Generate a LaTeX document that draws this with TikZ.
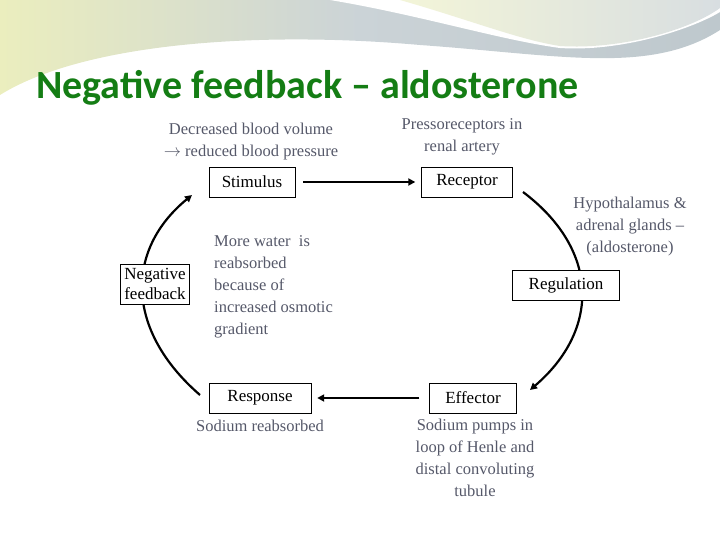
\documentclass[tikz,border=0pt]{standalone}
\usepackage{fontspec}
\setmainfont{Liberation Serif}
\newfontfamily\titlefont{Carlito}
\usetikzlibrary{arrows.meta, positioning}
\definecolor{fb_green}{RGB}{20, 125, 20}
\definecolor{fb_note}{RGB}{85, 88, 105}
\definecolor{fb_swoosh}{RGB}{190, 200, 205}
\definecolor{fb_yellow}{RGB}{235, 238, 190}

\begin{document}
\begin{tikzpicture}[x=1pt, y=-1pt,
      box/.style={rectangle, draw=black, fill=white, font=\fontsize{17}{20}\selectfont,
                  inner sep=4pt, minimum height=30pt, align=left},
      note/.style={text=fb_note, font=\fontsize{16.5}{22}\selectfont, align=center, inner sep=0pt},
      arr/.style={-{Triangle[length=7pt, width=7pt]}, line width=2.2pt},
    ]
      \useasboundingbox (0,0) rectangle (720,540);

      % top decoration
      \shade[left color=fb_yellow, right color=fb_swoosh, middle color=fb_swoosh!80]
        (0,0) -- (720,0) -- (720,30) .. controls (650,75) and (560,55) .. (420,45)
        .. controls (250,30) and (80,45) .. (0,95) -- cycle;
      \fill[white] (0,105) .. controls (80,60) and (250,45) .. (420,55)
        .. controls (560,65) and (650,80) .. (720,40) -- (720,50)
        .. controls (650,95) and (560,85) .. (420,68)
        .. controls (250,58) and (80,70) .. (0,120) -- cycle;
      \fill[white] (330,0) .. controls (420,15) and (500,40) .. (560,48)
        .. controls (620,52) and (690,30) .. (720,12) -- (720,0) -- cycle;
      \shade[left color=fb_yellow!60, right color=fb_swoosh!60]
        (400,0) .. controls (470,20) and (520,40) .. (560,46)
        .. controls (620,50) and (690,30) .. (720,8) -- (720,0) -- cycle;

      \node[anchor=west, text=fb_green, font=\titlefont\bfseries\fontsize{40}{44}\selectfont, inner sep=0pt]
        (title) at (36,88) {Negative feedback – aldosterone};

      % cycle boxes
      \node[box, minimum width=86pt] (stim) at (252,182) {Stimulus};
      \node[box, minimum width=91pt] (rec)  at (467,182) {Receptor};
      \node[box, minimum width=102pt] (resp) at (260,398) {Response};
      \node[box, minimum width=87pt] (eff)  at (473,398) {Effector};

      \draw[arr, shorten <=8pt, shorten >=6pt] (stim) -- (rec);
      \draw[arr, shorten <=10pt, shorten >=6pt] (eff) -- (resp);
      \draw[arr] (523,192) .. controls (600,250) and (600,330) .. (530,390);
      \draw[arr] (200,395) .. controls (125,330) and (125,250) .. (192,195);

      \node[box] (neg) at (155,284) {Negative\\feedback};
      \node[box, minimum width=107pt] (reg) at (566,285) {Regulation};

      % notes
      \node[note] (stimtxt) at (251,142) {Decreased blood volume\\$\rightarrow$ reduced blood pressure};
      \node[note] (rectxt)  at (462,137) {Pressoreceptors in\\renal artery};
      \node[note] (regtxt)  at (630,227) {Hypothalamus \&\\adrenal glands –\\(aldosterone)};
      \node[note, align=left, anchor=north west] (negtxt) at (214,235)
        {More water\ \ is\\reabsorbed\\because of\\increased osmotic\\gradient};
      \node[note] (resptxt) at (260,426) {Sodium reabsorbed};
      \node[note] (efftxt)  at (475,458) {Sodium pumps in\\loop of Henle and\\distal convoluting\\tubule};
    \end{tikzpicture}
\end{document}
